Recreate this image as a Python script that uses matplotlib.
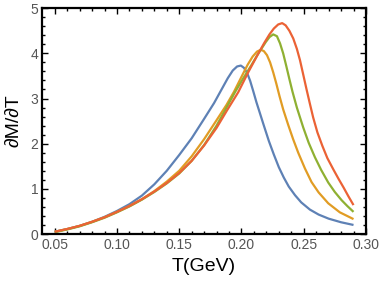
import matplotlib
matplotlib.use("Agg")
import matplotlib.pyplot as plt
from matplotlib.ticker import MultipleLocator

plt.rcParams['font.family'] = ['Liberation Sans', 'DejaVu Sans']

t_blue = [0.050, 0.060, 0.070, 0.080, 0.090, 0.100, 0.110, 0.120, 0.130, 0.140, 0.150,
          0.160, 0.170, 0.178, 0.184, 0.189, 0.193, 0.1965, 0.1995, 0.202, 0.2045, 0.207,
          0.2095, 0.212, 0.215, 0.218, 0.222, 0.226, 0.230, 0.234, 0.238, 0.243, 0.248,
          0.255, 0.262, 0.270, 0.280, 0.290]
v_blue = [0.05, 0.11, 0.18, 0.27, 0.38, 0.51, 0.66, 0.85, 1.10, 1.40, 1.75,
          2.12, 2.55, 2.90, 3.20, 3.45, 3.62, 3.71, 3.73, 3.68, 3.57, 3.39,
          3.16, 2.92, 2.66, 2.40, 2.06, 1.76, 1.48, 1.25, 1.05, 0.86, 0.70,
          0.54, 0.43, 0.34, 0.26, 0.20]

t_orange = [0.05, 0.06, 0.07, 0.08, 0.09, 0.10, 0.11, 0.12, 0.13, 0.14, 0.15, 0.16,
            0.17, 0.18, 0.188, 0.194, 0.200, 0.205, 0.209, 0.2125, 0.2155, 0.218,
            0.2205, 0.223, 0.2255, 0.228, 0.2305, 0.2335, 0.2375, 0.2415, 0.2456,
            0.251, 0.2563, 0.262, 0.2697, 0.279, 0.290]
v_orange = [0.05, 0.11, 0.18, 0.27, 0.37, 0.49, 0.62, 0.77, 0.95, 1.16, 1.40, 1.72,
            2.10, 2.52, 2.86, 3.15, 3.48, 3.75, 3.93, 4.04, 4.08, 4.05,
            3.96, 3.80, 3.58, 3.33, 3.06, 2.76, 2.42, 2.10, 1.80,
            1.45, 1.15, 0.92, 0.68, 0.48, 0.33]

t_green = [0.05, 0.06, 0.07, 0.08, 0.09, 0.10, 0.11, 0.12, 0.13, 0.14, 0.15, 0.16,
           0.17, 0.18, 0.188, 0.195, 0.2015, 0.208, 0.2125, 0.216, 0.2195, 0.2225,
           0.2255, 0.2285, 0.231, 0.2335, 0.236, 0.2385, 0.241, 0.2445, 0.2496,
           0.254, 0.259, 0.264, 0.2697, 0.275, 0.2804, 0.285, 0.290]
v_green = [0.04, 0.10, 0.17, 0.26, 0.36, 0.48, 0.61, 0.76, 0.93, 1.12, 1.34, 1.62,
           1.97, 2.40, 2.80, 3.15, 3.45, 3.74, 3.95, 4.10, 4.25, 4.36,
           4.42, 4.38, 4.22, 4.00, 3.72, 3.43, 3.15, 2.80, 2.36,
           2.02, 1.70, 1.42, 1.14, 0.93, 0.75, 0.62, 0.49]

t_red = [0.05, 0.06, 0.07, 0.08, 0.09, 0.10, 0.11, 0.12, 0.13, 0.14, 0.15, 0.16,
         0.17, 0.18, 0.188, 0.1974, 0.2054, 0.2134, 0.2185, 0.2225, 0.226, 0.2295,
         0.2327, 0.2355, 0.2385, 0.2416, 0.2445, 0.247, 0.2497, 0.2523, 0.255,
         0.2576, 0.261, 0.265, 0.269, 0.274, 0.278, 0.282, 0.286, 0.290]
v_red = [0.05, 0.11, 0.18, 0.27, 0.37, 0.49, 0.62, 0.77, 0.94, 1.13, 1.35, 1.62,
         1.96, 2.35, 2.72, 3.14, 3.58, 3.99, 4.24, 4.42, 4.55, 4.64,
         4.67, 4.62, 4.50, 4.33, 4.10, 3.85, 3.52, 3.20, 2.88,
         2.58, 2.25, 1.95, 1.68, 1.42, 1.22, 1.03, 0.83, 0.64]

series = [
    (t_blue, v_blue, '#5E81B5'),
    (t_orange, v_orange, '#E19C24'),
    (t_green, v_green, '#8FB032'),
    (t_red, v_red, '#EB6235'),
]

fig = plt.figure(figsize=(3.82, 2.88), dpi=100)
ax = fig.add_axes([0.111, 0.1875, 0.847, 0.784])
for t, v, c in series:
    ax.plot(t, v, color=c, lw=1.6, solid_capstyle='butt', solid_joinstyle='round')

ax.set_xlim(0.0401, 0.30)
ax.set_ylim(0, 5)
ax.xaxis.set_minor_locator(MultipleLocator(0.01))
ax.yaxis.set_minor_locator(MultipleLocator(0.2))
ax.set_xticks([0.05, 0.10, 0.15, 0.20, 0.25, 0.30])
ax.set_xticklabels(['0.05', '0.10', '0.15', '0.20', '0.25', '0.30'])
ax.set_yticks([0, 1, 2, 3, 4, 5])
ax.set_yticklabels(['0', '1', '2', '3', '4', '5'])
ax.tick_params(which='both', direction='in', top=True, right=True,
               colors='black', labelcolor='#555555', labelsize=10, width=1.0)
ax.tick_params(which='major', length=4, pad=3)
ax.tick_params(which='minor', length=2)
for s in ax.spines.values():
    s.set_linewidth(1.6)
ax.set_xlabel('T(GeV)', fontsize=14, labelpad=4)
ax.set_ylabel('∂M/∂T', fontsize=14, labelpad=6)
fig.savefig('out.png', dpi=100)
